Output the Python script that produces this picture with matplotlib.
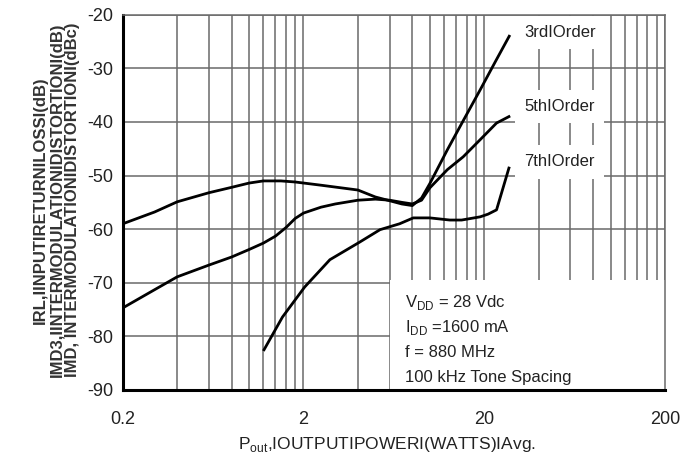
import matplotlib
matplotlib.use("Agg")
import matplotlib.pyplot as plt
import numpy as np
from matplotlib.patches import Rectangle
from matplotlib.ticker import FixedLocator, NullFormatter

plt.rcParams['font.family'] = ['Liberation Sans', 'DejaVu Sans']

# Pout (W) vs distortion (dBc)
third_x = [0.2, 0.3, 0.4, 0.6, 0.8, 1.0, 1.2, 1.5, 1.8, 2.5, 4, 5, 6, 7, 8, 9, 10, 12.5, 15, 19, 23, 27.5]
third_y = [-59.0, -56.8, -54.9, -53.2, -52.2, -51.4, -51.0, -51.0, -51.2, -51.8, -52.7, -54.0, -54.7, -55.3, -55.6, -54.2, -51.5, -45.2, -40.3, -34.0, -28.8, -24.0]

fifth_x = [0.2, 0.3, 0.4, 0.6, 0.8, 1.0, 1.2, 1.4, 1.6, 1.8, 2.0, 2.5, 3, 4, 5, 6, 7, 8, 9, 10, 12.5, 15.3, 19, 23.4, 27.4]
fifth_y = [-74.7, -71.3, -68.9, -66.7, -65.2, -63.8, -62.6, -61.3, -59.7, -58.0, -57.0, -55.9, -55.3, -54.6, -54.4, -54.6, -55.0, -55.3, -54.6, -52.3, -48.9, -46.5, -43.3, -40.2, -39.0]

seventh_x = [1.21, 1.53, 2.03, 2.8, 4.1, 5.3, 6.8, 8.1, 10, 12.9, 15, 19, 21, 23.4, 27.4]
seventh_y = [-82.5, -76.4, -70.8, -65.7, -62.4, -60.1, -59.0, -57.9, -57.9, -58.3, -58.3, -57.7, -57.2, -56.4, -48.6]

x_ticks = [0.2, 2, 20, 200]
x_ticklabels = ['0.2', '2', '20', '200']
y_ticks = [-90, -80, -70, -60, -50, -40, -30, -20]

# grid lines of the chart paper: every 0.2, 2, 20 step
x_grid = np.concatenate([np.arange(0.2, 2.01, 0.2), np.arange(2, 20.1, 2), np.arange(20, 201, 20)])

fig = plt.figure(figsize=(6.82, 4.62), dpi=100)
ax = fig.add_axes([0.180, 0.156, 0.795, 0.812])

ax.plot(third_x, third_y, color='black', lw=2.0, zorder=3)
ax.plot(fifth_x, fifth_y, color='black', lw=2.0, zorder=3)
ax.plot(seventh_x, seventh_y, color='black', lw=2.0, zorder=3)

ax.set_xscale('log')
ax.set_xlim(0.2, 200)
ax.set_ylim(-90, -20)
ax.set_xticks(x_ticks)
ax.set_xticklabels(x_ticklabels)
ax.xaxis.set_minor_locator(FixedLocator(x_grid))
ax.xaxis.set_minor_formatter(NullFormatter())
ax.set_yticks(y_ticks)
ax.set_yticklabels([str(v) for v in y_ticks])

ax.set_axisbelow(True)
ax.grid(True, which='both', axis='x', color='#6a6a6a', lw=1.1)
ax.grid(True, which='major', axis='y', color='#6a6a6a', lw=1.1)
ax.tick_params(which='both', length=0, labelsize=13, colors='#222222')
ax.tick_params(axis='x', pad=15)
ax.tick_params(axis='y', pad=7)

for s in ['left', 'bottom']:
    ax.spines[s].set_linewidth(2.2)
    ax.spines[s].set_color('black')
for s in ['top', 'right']:
    ax.spines[s].set_linewidth(1.1)
    ax.spines[s].set_color('#6a6a6a')

# white box behind the conditions text
ax.add_patch(Rectangle((0.493, 0.0), 0.507, 0.293, transform=ax.transAxes,
                       fc='white', ec='none', zorder=1))

box = dict(boxstyle='square,pad=0.55', fc='white', ec='none')
ax.text(0.806, 0.952, '3rdIOrder', transform=ax.transAxes, ha='center', va='center',
        fontsize=12, bbox=box, zorder=2, color='#222222')
ax.text(0.806, 0.755, '5thIOrder', transform=ax.transAxes, ha='center', va='center',
        fontsize=12, bbox=box, zorder=2, color='#222222')
ax.text(0.806, 0.608, '7thIOrder', transform=ax.transAxes, ha='center', va='center',
        fontsize=12, bbox=box, zorder=2, color='#222222')

cond = [r'V$_{\mathregular{DD}}$ = 28 Vdc', r'I$_{\mathregular{DD}}$ =1600 mA',
        'f = 880 MHz', '100 kHz Tone Spacing']
for i, t in enumerate(cond):
    ax.text(0.520, 0.232 - i * 0.066, t, transform=ax.transAxes, ha='left', va='center',
            fontsize=12, color='#222222', zorder=2)

fig.text(387 / 682, 1 - 444 / 462, r'P$_{\mathregular{out}}$,IOUTPUTIPOWERI(WATTS)IAvg.',
         ha='center', va='center', fontsize=12.5, color='#222222')

ylab = ['IRL,IINPUTIRETURNILOSSI(dB)',
        'IMD3,IINTERMODULATIONIDISTORTIONI(dB)',
        'IMD, INTERMODULATIONIDISTORTIONI(dBc)']
for xpx, t in zip([40, 57, 73], ylab):
    fig.text(xpx / 682, 1 - 200 / 462, t, rotation=90, ha='center', va='center',
             fontsize=12, fontweight='bold', color='#333333')

fig.savefig('out.png', dpi=100)
